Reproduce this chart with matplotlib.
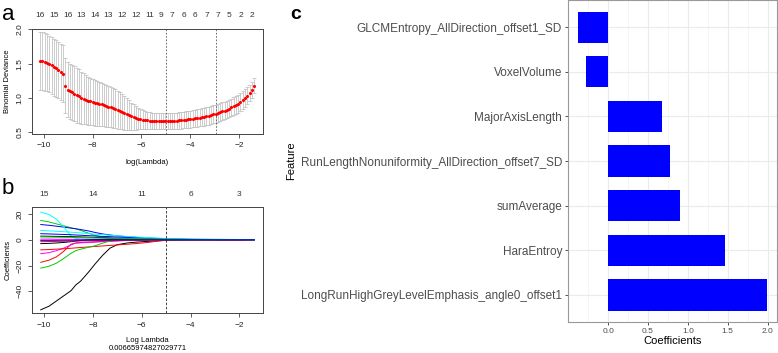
import numpy as np
import matplotlib.pyplot as plt

plt.rcParams['font.family'] = ['Liberation Sans', 'DejaVu Sans']

# ---- panel a: cross-validated binomial deviance ----
log_lambda = [-10.14, -10.05, -9.95, -9.86, -9.77, -9.67, -9.58, -9.49, -9.40, -9.30,
              -9.21, -9.12, -9.02, -8.93, -8.84, -8.74, -8.65, -8.56, -8.46, -8.37,
              -8.28, -8.18, -8.09, -8.00, -7.91, -7.81, -7.72, -7.63, -7.53, -7.44,
              -7.35, -7.25, -7.16, -7.07, -6.97, -6.88, -6.79, -6.70, -6.60, -6.51,
              -6.42, -6.32, -6.23, -6.14, -6.04, -5.95, -5.86, -5.76, -5.67, -5.58,
              -5.49, -5.39, -5.30, -5.21, -5.11, -5.02, -4.93, -4.83, -4.74, -4.65,
              -4.55, -4.46, -4.37, -4.28, -4.18, -4.09, -4.00, -3.90, -3.81, -3.72,
              -3.62, -3.53, -3.44, -3.34, -3.25, -3.16, -3.07, -2.97, -2.88, -2.79,
              -2.69, -2.60, -2.51, -2.41, -2.32, -2.23, -2.13, -2.04, -1.95, -1.86,
              -1.76, -1.67, -1.58, -1.48, -1.39]
cvm = [1.54, 1.535, 1.525, 1.515, 1.495, 1.475, 1.45, 1.43, 1.405, 1.38,
       1.355, 1.175, 1.12, 1.10, 1.08, 1.06, 1.04, 1.025, 1.005, 0.99,
       0.975, 0.96, 0.95, 0.94, 0.93, 0.922, 0.914, 0.905, 0.895, 0.885,
       0.875, 0.865, 0.855, 0.843, 0.83, 0.815, 0.80, 0.783, 0.765, 0.748,
       0.733, 0.72, 0.708, 0.698, 0.69, 0.682, 0.676, 0.672, 0.669, 0.667,
       0.666, 0.665, 0.664, 0.664, 0.663, 0.662, 0.663, 0.664, 0.665, 0.667,
       0.669, 0.672, 0.675, 0.679, 0.683, 0.688, 0.693, 0.698, 0.703, 0.708,
       0.714, 0.72, 0.727, 0.735, 0.743, 0.752, 0.761, 0.771, 0.781, 0.792,
       0.804, 0.817, 0.831, 0.846, 0.862, 0.879, 0.897, 0.917, 0.94, 0.965,
       1.0, 1.03, 1.07, 1.12, 1.18]
cvsd = [0.42, 0.42, 0.42, 0.42, 0.415, 0.415, 0.415, 0.41, 0.41, 0.41,
        0.41, 0.40, 0.40, 0.40, 0.40, 0.40, 0.40, 0.39, 0.38, 0.37,
        0.36, 0.35, 0.345, 0.34, 0.335, 0.33, 0.325, 0.32, 0.31, 0.305,
        0.30, 0.295, 0.29, 0.285, 0.275, 0.265, 0.255, 0.245, 0.235, 0.22,
        0.20, 0.185, 0.17, 0.155, 0.145, 0.14, 0.135, 0.13, 0.125, 0.12,
        0.12, 0.118, 0.117, 0.116, 0.116, 0.116, 0.116, 0.116, 0.116, 0.117,
        0.118, 0.119, 0.12, 0.121, 0.122, 0.123, 0.124, 0.125, 0.126, 0.127,
        0.128, 0.129, 0.13, 0.13, 0.13, 0.13, 0.13, 0.13, 0.13, 0.13,
        0.13, 0.13, 0.13, 0.13, 0.13, 0.13, 0.13, 0.13, 0.13, 0.13,
        0.128, 0.125, 0.12, 0.115, 0.11]
nz_idx = [0, 6, 12, 18, 24, 30, 36, 42, 48, 53, 58, 63, 68, 73, 78, 83, 88, 93]
nz_count = [16, 15, 16, 13, 14, 13, 12, 12, 11, 9, 7, 6, 6, 7, 7, 5, 2, 2]
lambda_min = 0.00665974827029771
log_lambda_1se = -2.97

# ---- panel b: coefficient paths ----
path_x = [-10.14, -9.8, -9.5, -9.2, -8.9, -8.7, -8.5, -8.2, -7.9, -7.6, -7.3,
          -7.0, -6.6, -6.2, -5.8, -5.4, -5.0, -4.5, -4.0, -3.0, -2.0, -1.39]
coef_01 = [-54.3, -51.5, -47.5, -43.5, -39.5, -35.0, -32.0, -25.5, -18.5, -12.0, -6.5,
           -3.8, -2.5, -1.8, -1.3, -0.9, -0.5, -0.2, 0, 0, 0, 0]
coef_02 = [-17.5, -15.8, -13.3, -9.0, -3.5, -2.5, -2.2, -1.9, -1.6, -1.3, -1.0,
           -0.8, -0.5, -0.3, -0.15, -0.05, 0, 0, 0, 0, 0, 0]
coef_03 = [15.0, 13.8, 12.3, 10.8, 9.3, 8.4, 7.2, 5.2, 3.3, 2.0, 1.0,
           0.6, 0.4, 0.3, 0.2, 0.15, 0.1, 0, 0, 0, 0, 0]
coef_04 = [11.8, 11.2, 10.5, 9.8, 9.0, 8.5, 7.9, 6.9, 5.6, 4.5, 3.7,
           3.0, 2.3, 1.8, 1.4, 1.1, 0.8, 0.5, 0.3, 0.1, 0, 0]
coef_05 = [21.4, 19.5, 16.0, 10.0, 3.0, 0.8, 0.6, 0.5, 0.5, 0.4, 0.4,
           0.3, 0.3, 0.2, 0.2, 0.1, 0.1, 0, 0, 0, 0, 0]
coef_06 = [-10.8, -10.0, -8.5, -6.5, -4.0, -2.6, -2.4, -2.1, -1.8, -1.5, -1.2,
           -0.9, -0.6, -0.4, -0.2, -0.1, 0, 0, 0, 0, 0, 0]
coef_07 = [2.8, 2.7, 2.6, 2.5, 2.4, 2.3, 2.2, 2.0, 1.8, 1.6, 1.4,
           1.2, 1.0, 0.8, 0.6, 0.4, 0.2, 0, 0, 0, 0, 0]
coef_08 = [-7.8, -7.6, -7.3, -7.0, -6.6, -6.3, -6.0, -5.6, -5.2, -4.8, -4.4,
           -4.0, -3.5, -2.9, -2.2, -1.2, -0.2, 0, 0, 0, 0, 0]
coef_09 = [-22.0, -20.5, -18.2, -14.5, -10.5, -8.4, -7.3, -5.9, -4.6, -2.6, -1.0,
           -0.2, 0, 0, 0, 0, 0, 0, 0, 0, 0, 0]
coef_10 = [4.7, 4.5, 4.3, 4.1, 3.9, 3.7, 3.5, 3.2, 2.9, 2.6, 2.4,
           2.1, 1.8, 1.5, 1.2, 0.9, 0.6, 0.4, 0.2, 0.1, 0.05, 0]
coef_11 = [7.2, 6.9, 6.6, 6.2, 5.9, 5.6, 5.3, 4.8, 4.3, 3.9, 3.5,
           3.1, 2.6, 2.1, 1.7, 1.3, 1.0, 0.7, 0.5, 0.3, 0.15, 0]
coef_12 = [0.5, 0.5, 0.4, 0.4, 0.3, 0.3, 0.3, 0.2, 0.2, 0.2, 0.1,
           0.1, 0, 0, 0, 0, 0, 0, 0, 0, 0, 0]
coef_13 = [-3.0, -2.8, -2.5, -2.1, -1.5, -1.0, -0.6, -0.2, 0, 0, 0,
           0, 0, 0, 0, 0, 0, 0, 0, 0, 0, 0]
coef_14 = [-1.5, -1.4, -1.3, -1.2, -1.1, -1.0, -0.9, -0.8, -0.7, -0.6, -0.5,
           -0.4, -0.3, -0.2, -0.1, 0, 0, 0, 0, 0, 0, 0]
coef_15 = [2.2, 2.1, 2.0, 1.9, 1.8, 1.7, 1.6, 1.5, 1.4, 1.3, 1.2,
           1.1, 1.0, 0.9, 0.8, 0.7, 0.6, 0.5, 0.4, 0.3, 0.2, 0]
coef_16 = [-0.5, -0.5, -0.45, -0.4, -0.4, -0.35, -0.3, -0.3, -0.25, -0.2, -0.2,
           -0.15, -0.1, -0.1, -0.05, 0, 0, 0, 0, 0, 0, 0]
top_b_x = [-10, -8, -6, -4, -2]
top_b_lab = [15, 14, 11, 6, 3]

# ---- panel c: selected features ----
features = ['GLCMEntropy_AllDirection_offset1_SD', 'VoxelVolume', 'MajorAxisLength',
            'RunLengthNonuniformity_AllDirection_offset7_SD', 'sumAverage',
            'HaraEntroy', 'LongRunHighGreyLevelEmphasis_angle0_offset1']
coefs = [-0.38, -0.275, 0.68, 0.77, 0.895, 1.47, 1.995]

# R palette used by matplot
r_cols = ['#000000', '#FF0000', '#00CD00', '#0000FF', '#00FFFF', '#FF00FF']

fig = plt.figure(figsize=(7.78, 3.53), dpi=100)


def r_style(ax):
    for s in ax.spines.values():
        s.set_linewidth(0.7)
        s.set_color('#444444')
    ax.tick_params(direction='out', length=3, width=0.6, colors='#444444',
                   labelcolor='#222222', labelsize=6, pad=3)
    ax.set_xticks([-10, -8, -6, -4, -2])
    ax.set_xlim(-10.49, -1.04)
    for lab in ax.get_yticklabels():
        lab.set_rotation(90)
        lab.set_va('center')


# panel a
ax_a = fig.add_axes([0.0407, 0.6204, 0.297, 0.2975])
x = np.array(log_lambda)
m = np.array(cvm)
sd = np.array(cvsd)
up = m + sd
lo = m - sd
barw = (x.max() - x.min()) * 0.01
ax_a.vlines(x, lo, up, color='#c4c4c4', lw=0.6)
ax_a.hlines(up, x - barw, x + barw, color='#c4c4c4', lw=0.6)
ax_a.hlines(lo, x - barw, x + barw, color='#c4c4c4', lw=0.6)
ax_a.scatter(x, m, s=5, color='red', zorder=3, lw=0)
ax_a.axvline(np.log(lambda_min), color='#555555', lw=0.6, ls=(0, (2, 2)))
ax_a.axvline(log_lambda_1se, color='#555555', lw=0.6, ls=(0, (2, 2)))
ax_a.set_ylim(0.475, 2.005)
ax_a.set_yticks([0.5, 1.0, 1.5, 2.0])
r_style(ax_a)
for i, n in zip(nz_idx, nz_count):
    ax_a.annotate(str(n), (log_lambda[i], 1), xycoords=('data', 'axes fraction'),
                  xytext=(0, 10), textcoords='offset points', ha='center',
                  va='center', fontsize=6, color='#333333')
ax_a.set_xlabel('log(Lambda)', fontsize=5.5, labelpad=7)
ax_a.set_ylabel('Binomial Deviance', fontsize=5.5, labelpad=4)

# panel b
ax_b = fig.add_axes([0.0414, 0.1125, 0.2963, 0.2997])
paths = [coef_01, coef_02, coef_03, coef_04, coef_05, coef_06, coef_07, coef_08,
         coef_09, coef_10, coef_11, coef_12, coef_13, coef_14, coef_15, coef_16]
for k, p in enumerate(paths):
    ax_b.plot(path_x, p, color=r_cols[k % 6], lw=0.7)
ax_b.axvline(np.log(lambda_min), color='#222222', lw=0.6, ls=(0, (3, 2)))
ax_b.set_ylim(-57.0, 25.0)
ax_b.set_yticks([-40, -20, 0, 20])
r_style(ax_b)
for xv, n in zip(top_b_x, top_b_lab):
    ax_b.annotate(str(n), (xv, 1), xycoords=('data', 'axes fraction'),
                  xytext=(0, 9), textcoords='offset points', ha='center',
                  va='center', fontsize=6, color='#333333')
ax_b.set_xlabel('Log Lambda\n' + repr(lambda_min), fontsize=5.5, labelpad=6,
                linespacing=1.15)
ax_b.set_ylabel('Coefficients', fontsize=5.5, labelpad=4)

# panel c
ax_c = fig.add_axes([0.7305, 0.0887, 0.2678, 0.9099])
ypos = np.arange(len(features), 0, -1)
ax_c.barh(ypos, coefs, height=0.7, color='#0000FF', zorder=3)
ax_c.set_xlim(-0.5, 2.114)
ax_c.set_ylim(0.4, 7.6)
ax_c.set_yticks(ypos)
ax_c.set_yticklabels(features)
ax_c.set_xticks([0.0, 0.5, 1.0, 1.5, 2.0])
ax_c.set_xticks([-0.25, 0.25, 0.75, 1.25, 1.75], minor=True)
ax_c.grid(which='major', color='#ebebeb', lw=0.8, zorder=0)
ax_c.grid(which='minor', axis='x', color='#f2f2f2', lw=0.5, zorder=0)
ax_c.tick_params(axis='y', labelsize=8.5, labelcolor='#4d4d4d', length=2.5,
                 width=0.6, color='#333333', pad=2)
ax_c.tick_params(axis='x', labelsize=6, labelcolor='#4d4d4d', length=2.5,
                 width=0.6, color='#333333', pad=2)
ax_c.tick_params(which='minor', length=0)
for s in ax_c.spines.values():
    s.set_color('#999999')
    s.set_linewidth(0.8)
ax_c.set_xlabel('Coefficients', fontsize=8, labelpad=1)
ax_c.set_ylabel('Feature', fontsize=8, labelpad=3)

fig.text(0.002, 0.96, 'a', fontsize=16, va='center', ha='left')
fig.text(0.002, 0.465, 'b', fontsize=16, va='center', ha='left')
fig.text(0.373, 0.96, 'c', fontsize=14, fontweight='bold', va='center', ha='left')

fig.savefig('out.png', dpi=100)
